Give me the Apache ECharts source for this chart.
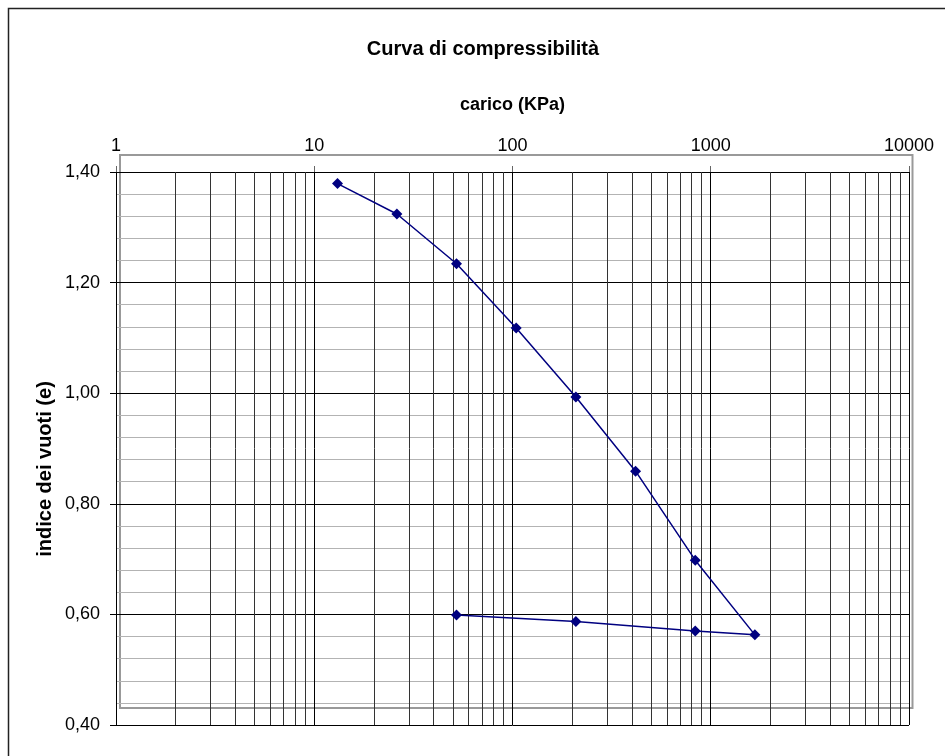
<!DOCTYPE html>
<html>
<head>
<meta charset="utf-8">
<title>Curva di compressibilità</title>
<script src="https://cdn.jsdelivr.net/npm/echarts@6/dist/echarts.min.js"></script>
<style>
  html, body { margin: 0; padding: 0; background: #fff; }
  #chart { width: 945px; height: 756px; }
</style>
</head>
<body>
<div id="chart"></div>
<script>
// Oedometer test: load steps (kPa) and corresponding void ratio e
const loads = [13.1, 26.1, 52.2, 104.4, 208.8, 417.6, 835, 1670, 835, 208.8, 52.2];
const voidRatio = [1.379, 1.324, 1.234, 1.118, 0.993, 0.859, 0.698, 0.563, 0.570, 0.587, 0.599];

// Axis ticks
const xDecades = [1, 10, 100, 1000, 10000];
const xTickLabels = ['1', '10', '100', '1000', '10000'];
const yTicks = [0.4, 0.6, 0.8, 1.0, 1.2, 1.4];
const yTickLabels = ['0,40', '0,60', '0,80', '1,00', '1,20', '1,40'];

const FONT = '"Liberation Sans", Arial, sans-serif';

// intermediate log-cycle lines (2..9 within each decade)
const minorX = [];
xDecades.slice(0, -1).forEach(d => {
  for (let k = 2; k <= 9; k++) minorX.push(k * d);
});

const points = loads.map((x, i) => [x, voidRatio[i]]);

const chart = echarts.init(document.getElementById('chart'), null, { renderer: 'canvas' });

chart.setOption({
  animation: false,
  backgroundColor: '#fff',
  graphic: [
    {
      type: 'rect', z: -10, silent: true,
      shape: { x: 8.5, y: 8.5, width: 960, height: 770 },
      style: { fill: 'none', stroke: '#222', lineWidth: 1.5 }
    },
    {
      type: 'rect', z: -5, silent: true,
      shape: { x: 120, y: 155, width: 792.5, height: 553 },
      style: { fill: 'none', stroke: '#999', lineWidth: 2 }
    },
    {
      type: 'text', silent: true,
      style: {
        text: 'Curva di compressibilità',
        x: 483, y: 49,
        textAlign: 'center', textVerticalAlign: 'middle',
        font: 'bold 20px ' + FONT, fill: '#000'
      }
    },
    {
      // vertical axis title
      type: 'text', silent: true,
      x: 45, y: 469,
      rotation: Math.PI / 2,
      style: {
        text: 'indice dei vuoti (e)',
        x: 0, y: 0,
        textAlign: 'center', textVerticalAlign: 'middle',
        font: 'bold 20px ' + FONT, fill: '#000'
      }
    }
  ],
  grid: { left: 116, top: 172, width: 793, height: 553, containLabel: false },
  xAxis: {
    type: 'log',
    logBase: 10,
    min: 1,
    max: 10000,
    position: 'top',
    name: 'carico (KPa)',
    nameLocation: 'middle',
    nameGap: 58,
    nameTextStyle: { fontFamily: FONT, fontWeight: 'bold', fontSize: 18, color: '#000' },
    axisLine: { show: true, lineStyle: { color: '#000', width: 1 } },
    axisTick: { show: true, inside: false, length: 6, lineStyle: { color: '#666', width: 1 } },
    axisLabel: {
      margin: 17,
      fontFamily: FONT, fontSize: 18, color: '#000',
      formatter: v => {
        const i = xDecades.indexOf(Math.round(v));
        return i >= 0 ? xTickLabels[i] : '';
      }
    },
    splitLine: { show: true, lineStyle: { color: '#000', width: 1 } }
  },
  yAxis: {
    type: 'value',
    min: 0.4,
    max: 1.4,
    interval: 0.2,
    axisLine: { show: true, lineStyle: { color: '#000', width: 1 } },
    axisTick: { show: true, inside: false, length: 6, lineStyle: { color: '#000', width: 1 } },
    axisLabel: {
      margin: 16,
      fontFamily: FONT, fontSize: 18, color: '#000',
      formatter: v => {
        const i = yTicks.findIndex(t => Math.abs(t - v) < 1e-6);
        return i >= 0 ? yTickLabels[i] : '';
      }
    },
    splitLine: { show: true, lineStyle: { color: '#000', width: 1 } },
    minorTick: { show: false, splitNumber: 5 },
    minorSplitLine: { show: true, lineStyle: { color: '#b3b3b3', width: 1 } }
  },
  series: [
    {
      type: 'line',
      z: 1,
      data: [],
      silent: true,
      markLine: {
        silent: true,
        symbol: ['none', 'none'],
        label: { show: false },
        emphasis: { disabled: true },
        lineStyle: { color: '#333', width: 1, type: 'solid' },
        data: minorX.map(v => ({ xAxis: v }))
      }
    },
    {
      type: 'line',
      z: 5,
      data: points,
      symbol: 'diamond',
      symbolSize: 11,
      itemStyle: { color: '#000080' },
      lineStyle: { color: '#000080', width: 1.5 },
      emphasis: { disabled: true }
    }
  ]
});
</script>
</body>
</html>
